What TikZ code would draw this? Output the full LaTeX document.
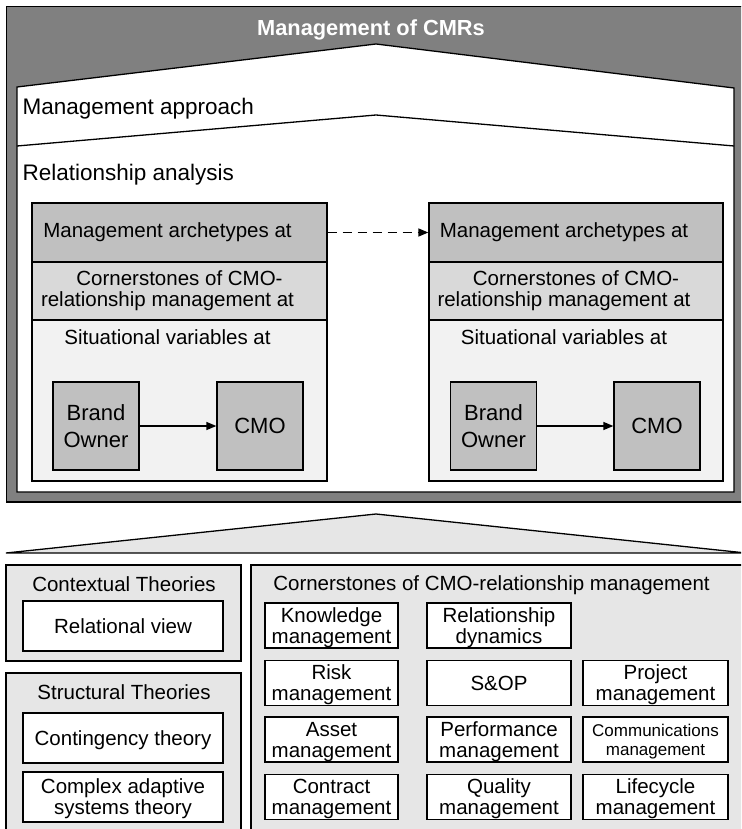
\documentclass[tikz,border=0pt]{standalone}
\usepackage{fontspec}
\setmainfont{Liberation Sans}
\usetikzlibrary{arrows.meta}
\definecolor{darkg}{HTML}{808080}
\definecolor{archg}{HTML}{C0C0C0}
\definecolor{cornerg}{HTML}{D9D9D9}
\definecolor{sitg}{HTML}{F2F2F2}
\definecolor{lowg}{HTML}{E6E6E6}
\newcommand\txtsz{\fontsize{20.5}{21}\selectfont}
\newcommand\headsz{\fontsize{22.5}{22.5}\selectfont}
\newcommand\bigsz{\fontsize{22}{26.5}\selectfont}
\newcommand\smallsz{\fontsize{17}{19}\selectfont}
\begin{document}
\begin{tikzpicture}[x=1pt,y=-1pt,line width=1.3pt,
  box/.style={draw=black, inner sep=0pt, align=center, font=\txtsz},
  txt/.style={inner sep=0pt, font=\txtsz},
  party/.style={box, fill=archg, minimum width=86pt, minimum height=88pt, font=\bigsz},
  item/.style={box, fill=white, minimum height=45pt, text depth=0pt},
  tip/.style={-{Triangle[length=10pt,width=8pt]}}]
\useasboundingbox (0,0) rectangle (741,829);
\begin{scope}
\clip (0,0) rectangle (741,829);
% ---------- upper frame ----------
\draw[fill=darkg] (6.5,6.5) rectangle (760,502);
\draw[fill=white] (17,87) -- (376,44) -- (734,88) -- (734,492) -- (17,492) -- cycle;
\draw (17,146) -- (376,115) -- (734,146);
\node[txt, font=\bfseries\fontsize{21.8}{21.8}\selectfont, text=white, anchor=base] (title) at (371,35.5) {Management of CMRs};
\node[txt, font=\headsz, anchor=base west] (mapp) at (22,115) {Management approach};
\node[txt, font=\headsz, anchor=base west] (rela) at (22,180) {Relationship analysis};
% ---------- left relationship ----------
\node[box, fill=archg, minimum width=295pt, minimum height=59pt] (arch1) at (179.5,232.5) {Management archetypes at\rule{24pt}{0pt}};
\node[box, fill=cornerg, minimum width=295pt, minimum height=58pt] (corn1) at (179.5,291) {Cornerstones of CMO-\\relationship management at\rule{24pt}{0pt}};
\node[box, fill=sitg, minimum width=295pt, minimum height=161pt] (sit1) at (179.5,400.5) {};
\node[txt, anchor=base] (sitt1) at (167.5,344) {Situational variables at};
\node[party] (bo1) at (96,426) {Brand\\Owner};
\node[party] (cmo1) at (260,426) {CMO};
\draw[tip] (bo1) -- (cmo1);
% ---------- right relationship ----------
\node[box, fill=archg, minimum width=294pt, minimum height=59pt] (arch2) at (576,232.5) {Management archetypes at\rule{24pt}{0pt}};
\node[box, fill=cornerg, minimum width=294pt, minimum height=58pt] (corn2) at (576,291) {Cornerstones of CMO-\\relationship management at\rule{24pt}{0pt}};
\node[box, fill=sitg, minimum width=294pt, minimum height=161pt] (sit2) at (576,400.5) {};
\node[txt, anchor=base] (sitt2) at (564,344) {Situational variables at};
\node[party] (bo2) at (493.5,426) {Brand\\Owner};
\node[party] (cmo2) at (657,426) {CMO};
\draw[tip] (bo2) -- (cmo2);
\draw[tip, line width=1.5pt, dash pattern=on 9pt off 6pt] (arch1.east) -- (arch2.west);
% ---------- lower roof ----------
\draw[fill=lowg] (6,553) -- (376,514) -- (746,553) -- cycle;
% ---------- theories ----------
\node[box, fill=lowg, minimum width=235pt, minimum height=96pt] (ctx) at (123.5,613) {};
\node[txt] (ctxt) at (124,584) {Contextual Theories};
\node[item, minimum width=200pt, minimum height=50pt] (relv) at (123,626) {Relational view};
\node[box, fill=lowg, minimum width=235pt, minimum height=177pt] (str) at (123.5,761.5) {};
\node[txt] (strt) at (124,692) {Structural Theories};
\node[item, minimum width=200pt, minimum height=50pt] (cont) at (123,738) {Contingency theory};
\node[item, minimum width=200pt, minimum height=50pt] (cas) at (123,797) {Complex adaptive\\systems theory};
% ---------- cornerstones ----------
\node[box, fill=lowg, minimum width=509pt, minimum height=285pt] (cst) at (505.5,707.5) {};
\node[txt] (cstt) at (491.5,585) {Cornerstones of CMO-relationship management};
\node[item, minimum width=133pt] (km) at (331.5,625.5) {Knowledge\\management};
\node[item, minimum width=144pt] (rd) at (499,625.5) {Relationship\\dynamics};
\node[item, minimum width=133pt] (rm) at (331.5,683) {Risk\\management};
\node[item, minimum width=144pt] (sop) at (499,683) {S\&OP};
\node[item, minimum width=145pt] (pm) at (655.5,683) {Project\\management};
\node[item, minimum width=133pt] (am) at (331.5,739.5) {Asset\\management};
\node[item, minimum width=144pt] (perf) at (499,739.5) {Performance\\management};
\node[item, minimum width=145pt, font=\smallsz] (comm) at (655.5,739.5) {Communications\\management};
\node[item, minimum width=133pt] (cm) at (331.5,797) {Contract\\management};
\node[item, minimum width=144pt] (qm) at (499,797) {Quality\\management};
\node[item, minimum width=145pt] (lm) at (655.5,797) {Lifecycle\\management};
\end{scope}
\end{tikzpicture}
\end{document}
